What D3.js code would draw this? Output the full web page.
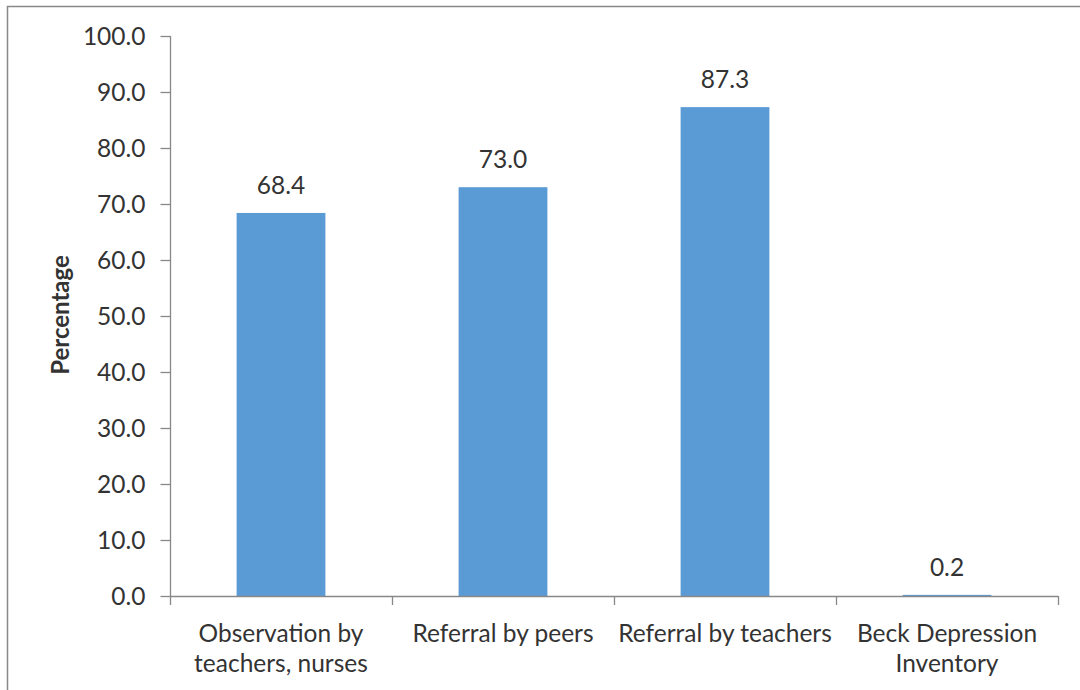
<!DOCTYPE html>
<html>
<head>
<meta charset="utf-8">
<script src="https://cdn.jsdelivr.net/npm/d3@7"></script>
<style>
  html, body { margin: 0; padding: 0; background: #fff; }
  svg { display: block; }
  text { font-family: Lato, "Open Sans", sans-serif; fill: #333; }
</style>
</head>
<body>
<svg id="chart" width="1080" height="690"></svg>
<script>
// Detection methods and the share of cases each one identified
const categories = [
  ["Observation by", "teachers, nurses"],
  ["Referral by peers"],
  ["Referral by teachers"],
  ["Beck Depression", "Inventory"]
];
const values = [68.4, 73.0, 87.3, 0.2];
const yTicks = [0, 10, 20, 30, 40, 50, 60, 70, 80, 90, 100];
const yLabel = "Percentage";

const svg = d3.select("#chart");
const W = 1080, H = 690;
const plot = { left: 170, right: 1058, top: 36, bottom: 596 };
const fs = "24.5px";

// outer frame
svg.append("rect")
  .attr("x", 7.5).attr("y", 6.5)
  .attr("width", W).attr("height", H)
  .attr("fill", "none").attr("stroke", "#888").attr("stroke-width", 1.5);

const x = d3.scaleBand()
  .domain(d3.range(categories.length))
  .range([plot.left, plot.right])
  .paddingInner(0.6).paddingOuter(0.3);

const y = d3.scaleLinear().domain([0, 100]).range([plot.bottom, plot.top]);

// y axis
const yAxis = svg.append("g")
  .attr("transform", `translate(${plot.left + 0.5},0)`)
  .call(d3.axisLeft(y).tickValues(yTicks).tickFormat(d3.format(".1f")).tickSize(10).tickPadding(15));
yAxis.select(".domain").attr("stroke", "#888").attr("stroke-width", 1.3).attr("d", `M-0,${plot.top}V${plot.bottom}`);
yAxis.selectAll(".tick line").attr("stroke", "#888").attr("stroke-width", 1.3);
yAxis.selectAll(".tick text")
  .style("font-size", fs).attr("fill", "#333").attr("dy", "0.35em");

// bars
svg.append("g").selectAll("rect")
  .data(values)
  .join("rect")
  .attr("x", (d, i) => x(i))
  .attr("width", x.bandwidth())
  .attr("y", d => y(d))
  .attr("height", d => Math.max(y(0) - y(d), 1.5))
  .attr("fill", "#5B9BD5");

// value labels
svg.append("g").selectAll("text")
  .data(values)
  .join("text")
  .attr("x", (d, i) => x(i) + x.bandwidth() / 2)
  .attr("y", d => y(d) - 19)
  .attr("text-anchor", "middle")
  .style("font-size", fs)
  .text(d => d.toFixed(1));

// x axis line and category separators
const band = (plot.right - plot.left) / categories.length;
const xAxis = svg.append("g");
xAxis.append("line")
  .attr("x1", plot.left).attr("x2", plot.right)
  .attr("y1", plot.bottom + 0.5).attr("y2", plot.bottom + 0.5)
  .attr("stroke", "#888").attr("stroke-width", 1.3);
xAxis.selectAll("line.sep")
  .data(d3.range(categories.length + 1))
  .join("line")
  .attr("class", "sep")
  .attr("x1", i => plot.left + 0.5 + i * band).attr("x2", i => plot.left + 0.5 + i * band)
  .attr("y1", plot.bottom).attr("y2", plot.bottom + 9)
  .attr("stroke", "#888").attr("stroke-width", 1.3);

// category labels
const catG = svg.append("g").selectAll("text")
  .data(categories)
  .join("text")
  .attr("text-anchor", "middle")
  .style("font-size", fs);
catG.selectAll("tspan")
  .data((d, i) => d.map(t => ({ t, i })))
  .join("tspan")
  .attr("x", d => x(d.i) + x.bandwidth() / 2)
  .attr("y", (d, j) => 642 + j * 30)
  .text(d => d.t);

// y axis title
svg.append("text")
  .attr("transform", "translate(69,315) rotate(-90)")
  .attr("text-anchor", "middle")
  .style("font-size", "24px").style("font-weight", "bold")
  .attr("fill", "#000")
  .text(yLabel);
</script>
</body>
</html>
